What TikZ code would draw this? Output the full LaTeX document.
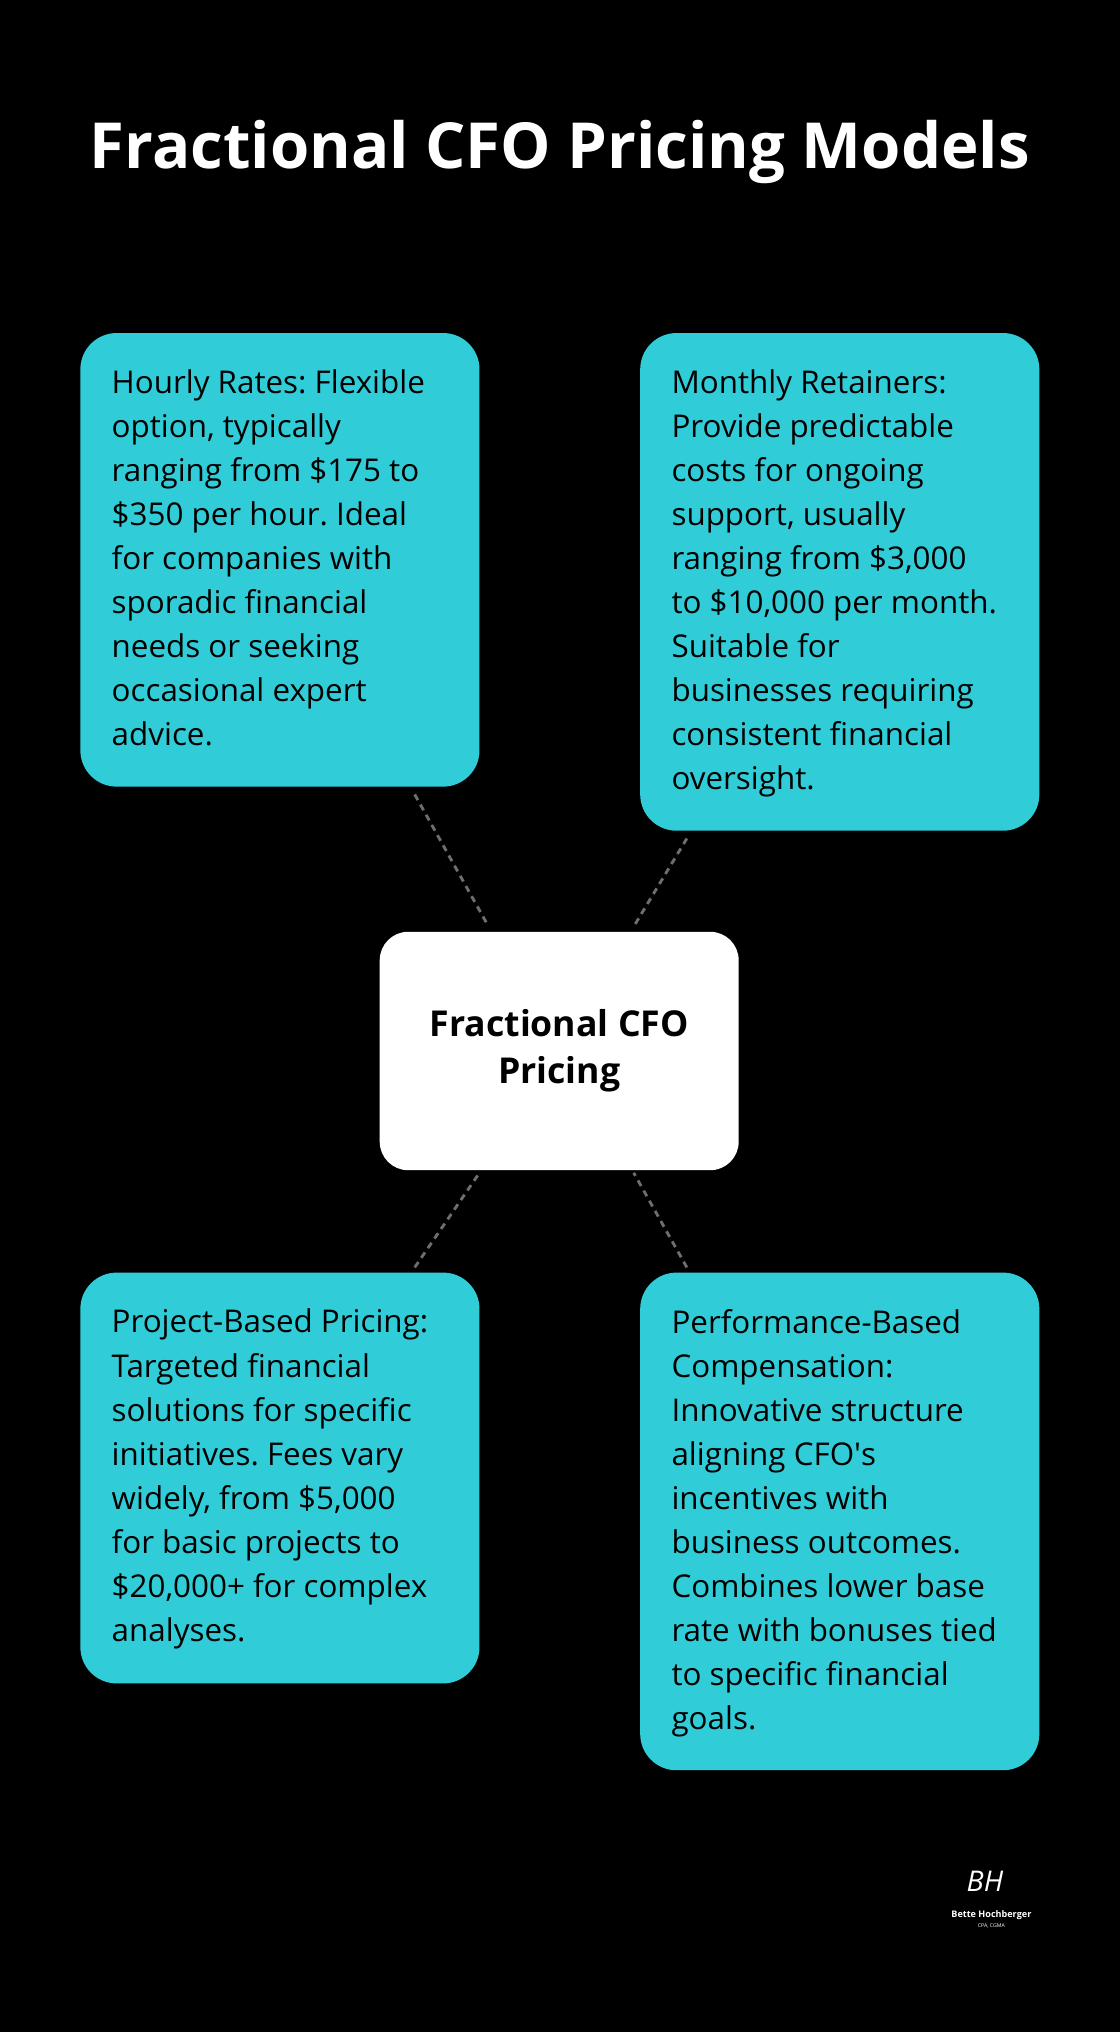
\documentclass[tikz,border=0pt]{standalone}
\usepackage{fontspec}
\setmainfont{Open Sans}
\frenchspacing
\usetikzlibrary{positioning, calc}
\definecolor{tile}{HTML}{30CDD9}
\definecolor{link}{HTML}{6E6E6E}

\begin{document}
\begin{tikzpicture}[x=1pt, y=-1pt,
	card/.style={text=black, align=left,
		anchor=north west, inner sep=0pt, font=\fontsize{24.2}{34}\selectfont},
	hub/.style={fill=white, rounded corners=22pt, align=center,
		font=\bfseries\fontsize{27.5}{36}\selectfont},
	dashlink/.style={link, line width=2.2pt, dash pattern=on 5pt off 4pt}]
	\fill[black] (0,0) rectangle (864,1568);
	\useasboundingbox (0,0) rectangle (864,1568);

	\node[text=white, font=\bfseries\fontsize{49}{56}\selectfont] (title) at (432,117) {Fractional CFO Pricing Models};

	% the four pricing models
	\fill[tile, rounded corners=28pt] (62,257) rectangle (370,607);
	\node[card] (hourly) at (86,285) {Hourly Rates: Flexible\\option, typically\\ranging from \$175 to\\\$350 per hour. Ideal\\for companies with\\sporadic financial\\needs or seeking\\occasional expert\\advice.};
	\fill[tile, rounded corners=28pt] (494,257) rectangle (802,641);
	\node[card] (monthly) at (518,285) {Monthly Retainers:\\Provide predictable\\costs for ongoing\\support, usually\\ranging from \$3,000\\to \$10,000 per month.\\Suitable for\\businesses requiring\\consistent financial\\oversight.};
	\fill[tile, rounded corners=28pt] (62,982) rectangle (370,1299);
	\node[card] (project) at (86,1010) {Project-Based Pricing:\\Targeted financial\\solutions for specific\\initiatives. Fees vary\\widely, from \$5,000\\for basic projects to\\\$20,000+ for complex\\analyses.};
	\fill[tile, rounded corners=28pt] (494,982) rectangle (802,1366);
	\node[card] (perf) at (518,1010) {Performance-Based\\Compensation:\\Innovative structure\\aligning CFO\textquotesingle s\\incentives with\\business outcomes.\\Combines lower base\\rate with bonuses tied\\to specific financial\\goals.};

	\node[hub, minimum width=277pt, minimum height=184pt] (core) at (431.5,811) {Fractional CFO\\Pricing};

	\coordinate (hourlyEnd) at (320,613);
	\coordinate (monthlyEnd) at (530,647);
	\coordinate (projectEnd) at (320,978);
	\coordinate (perfEnd) at (530,978);
	\coordinate (coreNW) at (377,715);
	\coordinate (coreNE) at (489,715);
	\coordinate (coreSW) at (370,905);
	\coordinate (coreSE) at (489,905);
	\draw[dashlink] (hourlyEnd) -- (coreNW);
	\draw[dashlink] (monthlyEnd) -- (coreNE);
	\draw[dashlink] (projectEnd) -- (coreSW);
	\draw[dashlink] (perfEnd) -- (coreSE);

	% signature
	\node[text=white, font=\itshape\fontsize{22}{22}\selectfont] (sig) at (760,1452) {BH};
	\node[text=white, font=\bfseries\fontsize{7}{8}\selectfont] (brand) at (765,1478) {Bette Hochberger};
	\node[text=white, font=\fontsize{4}{5}\selectfont] (cred) at (765,1486) {CPA, CGMA};
\end{tikzpicture}
\end{document}
